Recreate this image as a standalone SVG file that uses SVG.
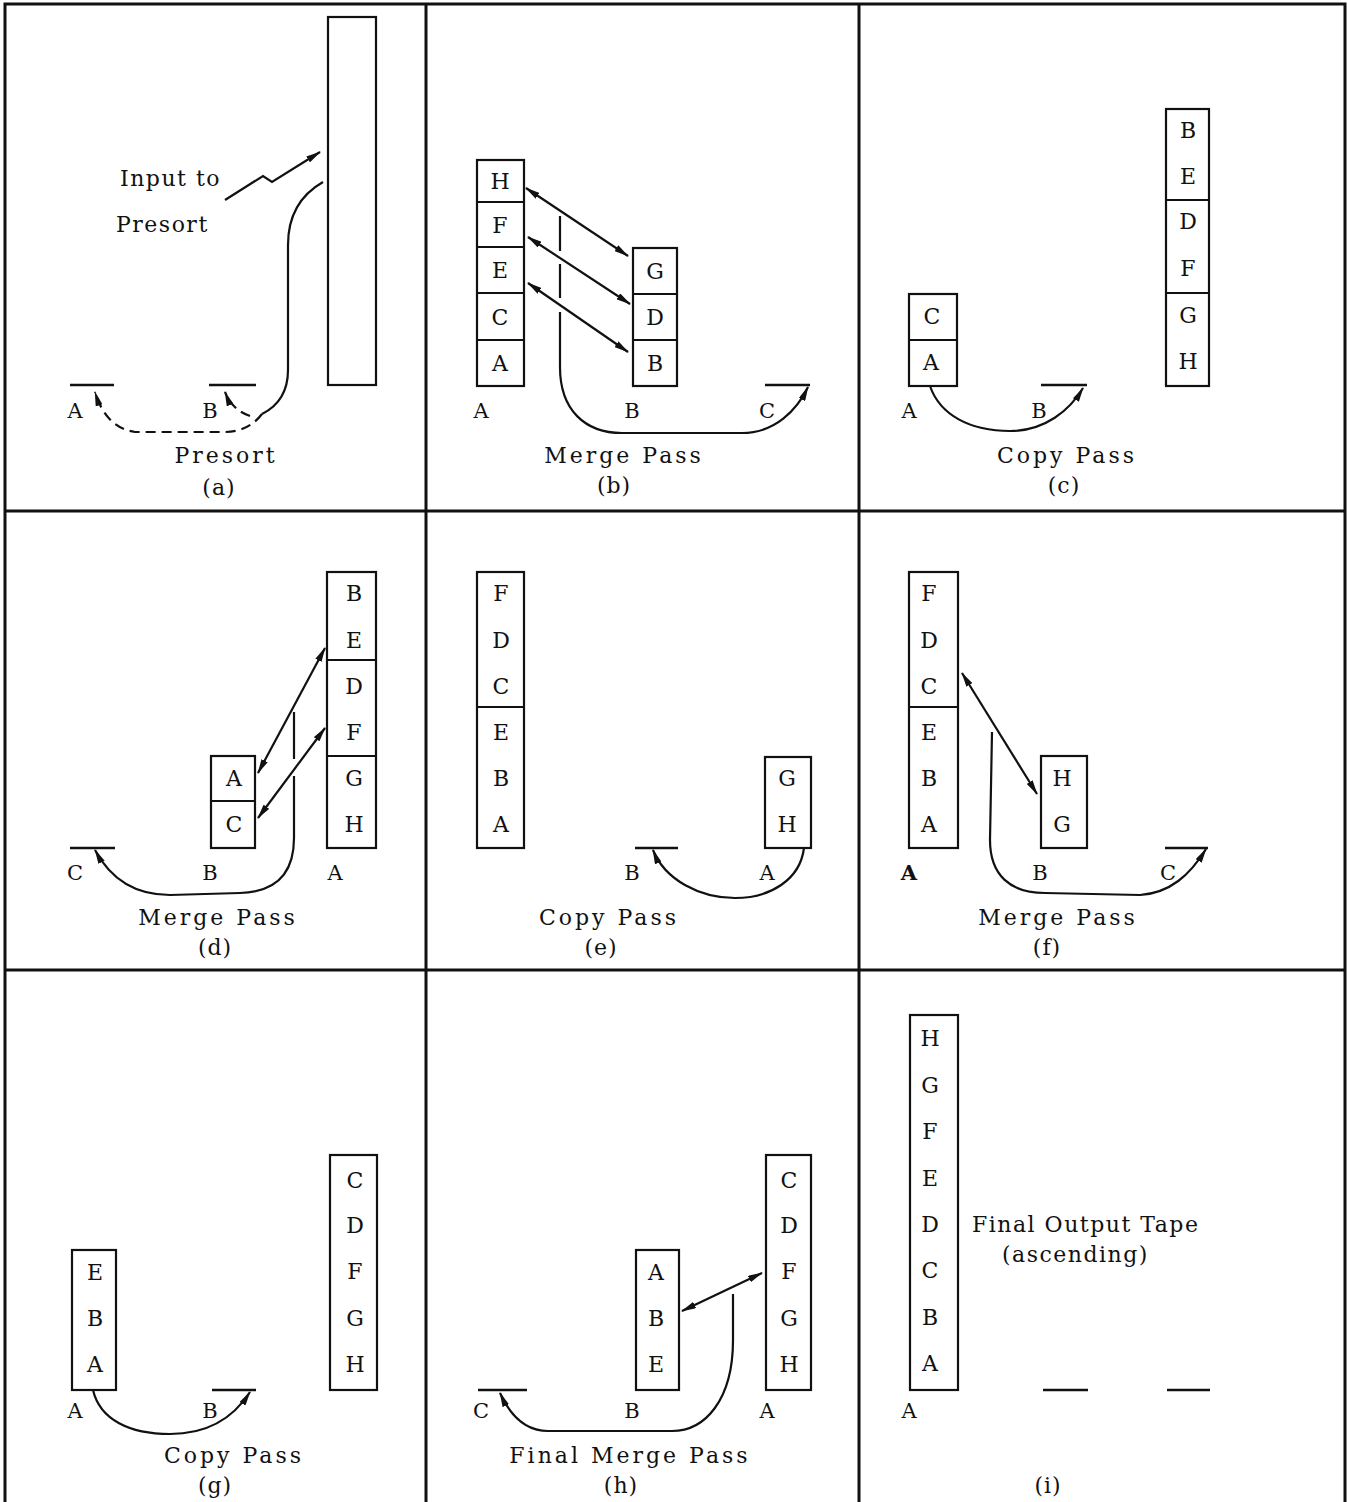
<svg xmlns="http://www.w3.org/2000/svg" width="1348" height="1502" viewBox="0 0 1348 1502">
<style>
.fr{stroke:#111;stroke-width:3;fill:none}
.bx{stroke:#111;stroke-width:2.2;fill:#fff}
.dv{stroke:#111;stroke-width:2}
.tp{stroke:#111;stroke-width:2.4}
.ln{stroke:#111;stroke-width:2.2;fill:none}
.ds{stroke:#111;stroke-width:2.2;fill:none;stroke-dasharray:10 6}
text{font-family:"DejaVu Serif","Liberation Serif",serif;fill:#111}
.c{font-size:22px;text-anchor:middle}
.t{font-size:21px;text-anchor:middle}
.cap{font-size:22px;letter-spacing:3px;text-anchor:middle}
.sub{font-size:22px;letter-spacing:1px;text-anchor:middle}
.lb{font-size:22px;letter-spacing:1.5px}
</style>
<defs>
<marker id="ah" viewBox="0 0 15 7" refX="14" refY="3.5" markerWidth="15" markerHeight="7" markerUnits="userSpaceOnUse" orient="auto-start-reverse">
<path d="M0,0 L15,3.5 L0,7 z" fill="#111"/>
</marker>
</defs>
<rect width="1348" height="1502" fill="#fff"/>
<g id="frame">
<path class="fr" d="M5,1502 V4 H1345 V1502 M426,4 V1502 M859,4 V1502 M5,511 H1345 M5,970 H1345"/>
</g>

<!-- Panel a -->
<g id="a-input"><rect class="bx" x="328" y="17" width="48" height="368"/></g>
<g id="a-tapeA"><line class="tp" x1="70" y1="385" x2="114" y2="385"/><text class="t" x="75" y="418">A</text></g>
<g id="a-tapeB"><line class="tp" x1="209" y1="385" x2="256" y2="385"/><text class="t" x="210" y="418">B</text></g>
<g id="a-label"><text class="lb" x="120" y="186">Input to</text><text class="lb" x="116" y="232">Presort</text></g>
<text class="cap" x="226" y="463">Presort</text>
<text class="sub" x="219" y="495">(a)</text>

<!-- Panel b -->
<g id="b-tapeA">
<rect class="bx" x="477" y="160" width="47" height="226"/>
<path class="dv" d="M477,202 H524 M477,247 H524 M477,293 H524 M477,340 H524"/>
<text class="c" x="500" y="189">H</text><text class="c" x="500" y="233">F</text><text class="c" x="500" y="278">E</text><text class="c" x="500" y="325">C</text><text class="c" x="500" y="371">A</text>
<text class="t" x="481" y="418">A</text>
</g>
<g id="b-tapeB">
<rect class="bx" x="633" y="248" width="44" height="138"/>
<path class="dv" d="M633,294 H677 M633,340 H677"/>
<text class="c" x="655" y="279">G</text><text class="c" x="655" y="325">D</text><text class="c" x="655" y="371">B</text>
<text class="t" x="632" y="418">B</text>
</g>
<g id="b-tapeC"><line class="tp" x1="765" y1="385" x2="810" y2="385"/><text class="t" x="767" y="418">C</text></g>
<text class="cap" x="624" y="463">Merge Pass</text>
<text class="sub" x="614" y="493">(b)</text>

<!-- Panel c -->
<g id="c-tapeA">
<rect class="bx" x="909" y="294" width="48" height="92"/>
<path class="dv" d="M909,340 H957"/>
<text class="c" x="932" y="324">C</text><text class="c" x="931" y="370">A</text>
<text class="t" x="909" y="418">A</text>
</g>
<g id="c-tapeC">
<rect class="bx" x="1166" y="109" width="43" height="277"/>
<path class="dv" d="M1166,200 H1209 M1166,293 H1209"/>
<text class="c" x="1188" y="138">B</text><text class="c" x="1188" y="184">E</text><text class="c" x="1188" y="229">D</text><text class="c" x="1188" y="276">F</text><text class="c" x="1188" y="323">G</text><text class="c" x="1188" y="369">H</text>
</g>
<g id="c-tapeB"><line class="tp" x1="1041" y1="385" x2="1087" y2="385"/><text class="t" x="1039" y="418">B</text></g>
<text class="cap" x="1067" y="463">Copy Pass</text>
<text class="sub" x="1064" y="493">(c)</text>

<!-- Panel d -->
<g id="d-tapeA">
<rect class="bx" x="327" y="572" width="49" height="276"/>
<path class="dv" d="M327,660 H376 M327,756 H376"/>
<text class="c" x="354" y="601">B</text><text class="c" x="354" y="648">E</text><text class="c" x="354" y="694">D</text><text class="c" x="354" y="740">F</text><text class="c" x="354" y="786">G</text><text class="c" x="354" y="832">H</text>
<text class="t" x="335" y="880">A</text>
</g>
<g id="d-tapeB">
<rect class="bx" x="211" y="756" width="44" height="92"/>
<path class="dv" d="M211,801 H255"/>
<text class="c" x="234" y="786">A</text><text class="c" x="234" y="832">C</text>
<text class="t" x="210" y="880">B</text>
</g>
<g id="d-tapeC"><line class="tp" x1="70" y1="848" x2="115" y2="848"/><text class="t" x="75" y="880">C</text></g>
<text class="cap" x="218" y="925">Merge Pass</text>
<text class="sub" x="215" y="955">(d)</text>

<!-- Panel e -->
<g id="e-tapeC">
<rect class="bx" x="477" y="572" width="47" height="276"/>
<path class="dv" d="M477,707 H524"/>
<text class="c" x="501" y="601">F</text><text class="c" x="501" y="648">D</text><text class="c" x="501" y="694">C</text><text class="c" x="501" y="740">E</text><text class="c" x="501" y="786">B</text><text class="c" x="501" y="832">A</text>
</g>
<g id="e-tapeA">
<rect class="bx" x="765" y="757" width="46" height="91"/>
<text class="c" x="787" y="786">G</text><text class="c" x="787" y="832">H</text>
<text class="t" x="767" y="880">A</text>
</g>
<g id="e-tapeB"><line class="tp" x1="635" y1="848" x2="678" y2="848"/><text class="t" x="632" y="880">B</text></g>
<text class="cap" x="609" y="925">Copy Pass</text>
<text class="sub" x="601" y="955">(e)</text>

<!-- Panel f -->
<g id="f-tapeA">
<rect class="bx" x="909" y="572" width="49" height="276"/>
<path class="dv" d="M909,707 H958"/>
<text class="c" x="929" y="601">F</text><text class="c" x="929" y="648">D</text><text class="c" x="929" y="694">C</text><text class="c" x="929" y="740">E</text><text class="c" x="929" y="786">B</text><text class="c" x="929" y="832">A</text>
<text class="t" x="909" y="880" font-weight="bold">A</text>
</g>
<g id="f-tapeB">
<rect class="bx" x="1041" y="756" width="46" height="92"/>
<text class="c" x="1062" y="786">H</text><text class="c" x="1062" y="832">G</text>
<text class="t" x="1040" y="880">B</text>
</g>
<g id="f-tapeC"><line class="tp" x1="1165" y1="848" x2="1208" y2="848"/><text class="t" x="1168" y="880">C</text></g>
<text class="cap" x="1058" y="925">Merge Pass</text>
<text class="sub" x="1047" y="955">(f)</text>

<!-- Panel g -->
<g id="g-tapeA">
<rect class="bx" x="72" y="1250" width="44" height="140"/>
<text class="c" x="95" y="1280">E</text><text class="c" x="95" y="1326">B</text><text class="c" x="95" y="1372">A</text>
<text class="t" x="75" y="1418">A</text>
</g>
<g id="g-tapeC">
<rect class="bx" x="330" y="1155" width="47" height="235"/>
<text class="c" x="355" y="1188">C</text><text class="c" x="355" y="1233">D</text><text class="c" x="355" y="1279">F</text><text class="c" x="355" y="1326">G</text><text class="c" x="355" y="1372">H</text>
</g>
<g id="g-tapeB"><line class="tp" x1="212" y1="1390" x2="256" y2="1390"/><text class="t" x="210" y="1418">B</text></g>
<text class="cap" x="234" y="1463">Copy Pass</text>
<text class="sub" x="215" y="1493">(g)</text>

<!-- Panel h -->
<g id="h-tapeB">
<rect class="bx" x="636" y="1250" width="43" height="140"/>
<text class="c" x="656" y="1280">A</text><text class="c" x="656" y="1326">B</text><text class="c" x="656" y="1372">E</text>
<text class="t" x="632" y="1418">B</text>
</g>
<g id="h-tapeA">
<rect class="bx" x="766" y="1155" width="45" height="235"/>
<text class="c" x="789" y="1188">C</text><text class="c" x="789" y="1233">D</text><text class="c" x="789" y="1279">F</text><text class="c" x="789" y="1326">G</text><text class="c" x="789" y="1372">H</text>
<text class="t" x="767" y="1418">A</text>
</g>
<g id="h-tapeC"><line class="tp" x1="478" y1="1390" x2="527" y2="1390"/><text class="t" x="481" y="1418">C</text></g>
<text class="cap" x="630" y="1463">Final Merge Pass</text>
<text class="sub" x="621" y="1493">(h)</text>

<!-- Panel i -->
<g id="i-tapeA">
<rect class="bx" x="910" y="1015" width="48" height="375"/>
<text class="c" x="930" y="1046">H</text><text class="c" x="930" y="1093">G</text><text class="c" x="930" y="1139">F</text><text class="c" x="930" y="1186">E</text><text class="c" x="930" y="1232">D</text><text class="c" x="930" y="1278">C</text><text class="c" x="930" y="1325">B</text><text class="c" x="930" y="1371">A</text>
<text class="t" x="909" y="1418">A</text>
</g>
<g id="i-tapeB"><line class="tp" x1="1043" y1="1390" x2="1088" y2="1390"/></g>
<g id="i-tapeC"><line class="tp" x1="1167" y1="1390" x2="1210" y2="1390"/></g>
<g id="i-label"><text class="lb" x="972" y="1232">Final Output Tape</text><text class="lb" x="1002" y="1262">(ascending)</text></g>
<text class="sub" x="1048" y="1493">(i)</text>

<!-- Connectors -->
<g id="connectors">
<!-- a -->
<path class="ln" d="M225,200 L263,176 L272,182 L320,152" marker-end="url(#ah)"/>
<path class="ln" d="M323,182 C302,194 288,214 288,245 L288,370 C288,392 278,406 262,414"/>
<path class="ds" d="M262,414 Q248,432 225,432 L135,432 Q106,428 95,392" marker-end="url(#ah)"/>
<path class="ds" d="M250,416 Q232,410 225,392" marker-end="url(#ah)"/>
<!-- b -->
<line class="ln" x1="526" y1="188" x2="628" y2="256" marker-start="url(#ah)" marker-end="url(#ah)"/>
<line class="ln" x1="528" y1="237" x2="630" y2="304" marker-start="url(#ah)" marker-end="url(#ah)"/>
<line class="ln" x1="528" y1="283" x2="628" y2="352" marker-start="url(#ah)" marker-end="url(#ah)"/>
<path class="ln" d="M560,216 V251 M560,264 V298 M560,312 V367 C560,410 585,433 622,433 L742,433 C775,433 797,410 808,387" marker-end="url(#ah)"/>
<!-- c -->
<path class="ln" d="M930,386 C940,415 970,431 1010,431 C1045,431 1070,410 1083,388" marker-end="url(#ah)"/>
<!-- d -->
<line class="ln" x1="325" y1="648" x2="258" y2="773" marker-start="url(#ah)" marker-end="url(#ah)"/>
<line class="ln" x1="325" y1="728" x2="258" y2="818" marker-start="url(#ah)" marker-end="url(#ah)"/>
<path class="ln" d="M294,712 V759 M294,776 V838 C294,875 275,892 240,893 L170,895 C135,895 110,878 95,850" marker-end="url(#ah)"/>
<!-- e -->
<path class="ln" d="M804,848 C800,880 770,898 735,898 C700,898 665,880 653,850" marker-end="url(#ah)"/>
<!-- f -->
<line class="ln" x1="962" y1="673" x2="1037" y2="794" marker-start="url(#ah)" marker-end="url(#ah)"/>
<path class="ln" d="M992,732 L990,840 C990,875 1010,893 1045,893 L1140,895 C1170,893 1190,875 1206,849" marker-end="url(#ah)"/>
<!-- g -->
<path class="ln" d="M93,1390 C100,1420 130,1434 170,1434 C205,1434 232,1420 250,1392" marker-end="url(#ah)"/>
<!-- h -->
<line class="ln" x1="682" y1="1311" x2="762" y2="1273" marker-start="url(#ah)" marker-end="url(#ah)"/>
<path class="ln" d="M733,1294 V1340 C733,1400 705,1431 672,1431 L548,1431 C525,1431 510,1415 500,1393" marker-end="url(#ah)"/>
</g>
</svg>
